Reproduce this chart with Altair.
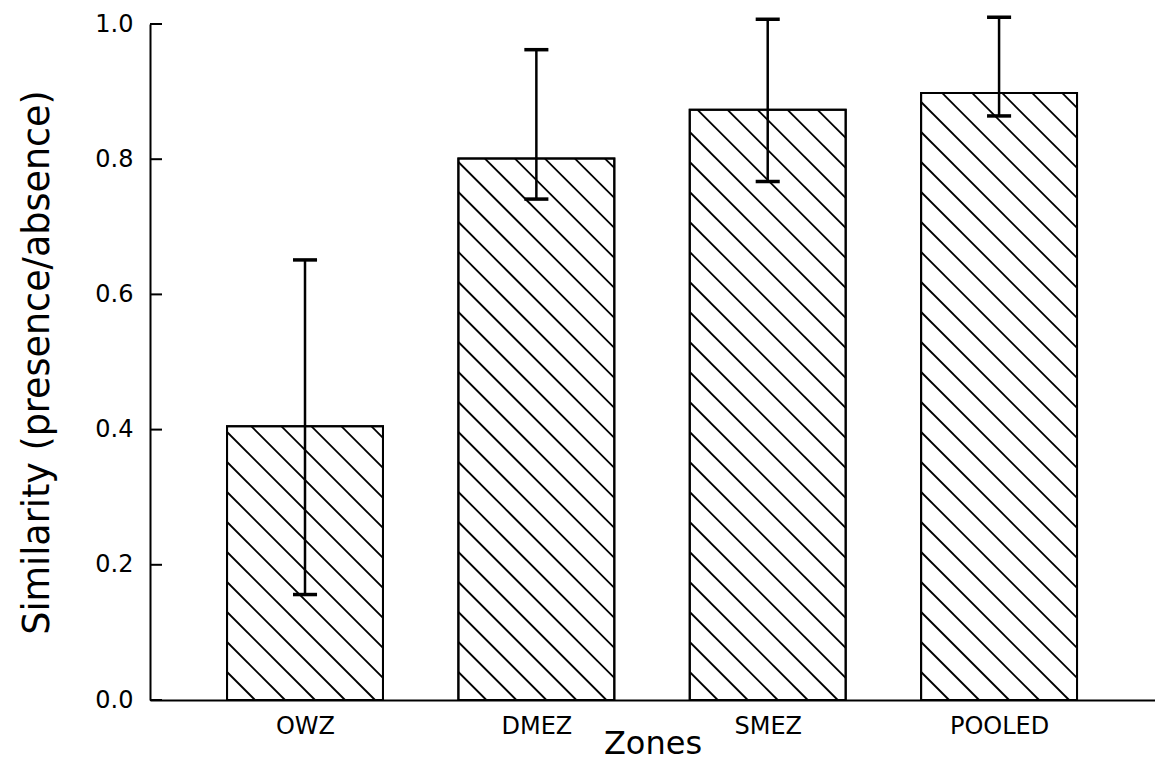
import altair as alt
import pandas as pd

# ---- data ----
zones = ["OWZ", "DMEZ", "SMEZ", "POOLED"]
similarity = [0.405, 0.801, 0.873, 0.898]
err_low = [0.156, 0.741, 0.767, 0.864]
err_high = [0.651, 0.962, 1.007, 1.010]
y_ticks = [0.0, 0.2, 0.4, 0.6, 0.8, 1.0]

# ---- layout constants ----
X_MIN, X_MAX = -0.67, 3.674
W, H = 1005, 676
HALF = 0.337          # half bar width (in position units)
CAP = 0.052           # half cap width
SX = W / (X_MAX - X_MIN)
SY = H / 1.0
SPACING = 30          # hatch spacing in px
PHASE = 28

FONT = "DejaVu Sans"

pos = list(range(len(zones)))
bars = pd.DataFrame({"zone": zones, "pos": pos, "sim": similarity,
                     "lo": err_low, "hi": err_high})
bars["left"] = bars["pos"] - HALF
bars["right"] = bars["pos"] + HALF
bars["capL"] = bars["pos"] - CAP
bars["capR"] = bars["pos"] + CAP

# hatch segments (\\\) clipped to each bar, derived from the bar values
rows = []
for _, b in bars.iterrows():
    wp = (b["right"] - b["left"]) * SX
    hp = b["sim"] * SY
    c = PHASE
    while c < wp + hp:
        u1 = max(0.0, c - hp)
        v1 = c - u1
        v2 = max(0.0, c - wp)
        u2 = c - v2
        rows.append({"hx": b["left"] + u1 / SX, "hy": v1 / SY,
                     "hx2": b["left"] + u2 / SX, "hy2": v2 / SY})
        c += SPACING
hatch = pd.DataFrame(rows)

ticks = pd.DataFrame({"t": y_ticks})

xscale = alt.Scale(domain=[X_MIN, X_MAX], nice=False, zero=False)
yscale = alt.Scale(domain=[0, 1], nice=False)

label_expr = "[" + ",".join(f"'{z}'" for z in zones) + "][datum.value]"

xaxis = alt.Axis(values=pos, labelExpr=label_expr, ticks=False, grid=False,
                 domainColor="black", domainWidth=2,
                 labelFont=FONT, labelFontSize=24, labelColor="black", labelPadding=14,
                 title="Zones", titleFont=FONT, titleFontSize=32,
                 titleFontWeight="normal", titleColor="black",
                 titleY=53, titleBaseline="alphabetic")
yaxis = alt.Axis(values=y_ticks, format=".1f", ticks=False, grid=False,
                 domainColor="black", domainWidth=2,
                 labelFont=FONT, labelFontSize=24, labelColor="black", labelPadding=17,
                 title="Similarity  (presence/absence)", titleFont=FONT,
                 titleFontSize=36.5, titleFontWeight="normal", titleColor="black",
                 titlePadding=38)

base_bars = alt.Chart(bars)

rect = base_bars.mark_rect(fill="white", stroke="black", strokeWidth=2).encode(
    x=alt.X("left:Q", scale=xscale, axis=xaxis),
    x2="right:Q",
    y=alt.Y("sim:Q", scale=yscale, axis=yaxis),
    y2=alt.datum(0),
)

hatch_layer = alt.Chart(hatch).mark_rule(color="black", strokeWidth=1.8).encode(
    x=alt.X("hx:Q", scale=xscale), x2="hx2:Q",
    y=alt.Y("hy:Q", scale=yscale), y2="hy2:Q",
)

outline = base_bars.mark_rect(fill="white", fillOpacity=0, stroke="black", strokeWidth=2).encode(
    x=alt.X("left:Q", scale=xscale), x2="right:Q",
    y=alt.Y("sim:Q", scale=yscale), y2=alt.datum(0),
)

err = base_bars.mark_rule(color="black", strokeWidth=2.5).encode(
    x=alt.X("pos:Q", scale=xscale),
    y=alt.Y("lo:Q", scale=yscale), y2="hi:Q",
)

caps = base_bars.transform_fold(["lo", "hi"], as_=["end", "yv"]).mark_rule(
    color="black", strokeWidth=3.5).encode(
    x=alt.X("capL:Q", scale=xscale), x2="capR:Q",
    y=alt.Y("yv:Q", scale=yscale),
)

tick_layer = alt.Chart(ticks).mark_rule(color="black", strokeWidth=2).encode(
    x=alt.value(0), x2=alt.value(12),
    y=alt.Y("t:Q", scale=yscale),
)

chart = alt.layer(rect, hatch_layer, outline, err, caps, tick_layer).properties(
    width=W, height=H,
    autosize=alt.AutoSizeParams(type="none"),
    padding={"left": 142, "top": 16, "right": 0, "bottom": 62},
    background="white",
).configure_view(stroke=None)

chart.save("out.html", embed_options={"renderer": "svg", "actions": False})
